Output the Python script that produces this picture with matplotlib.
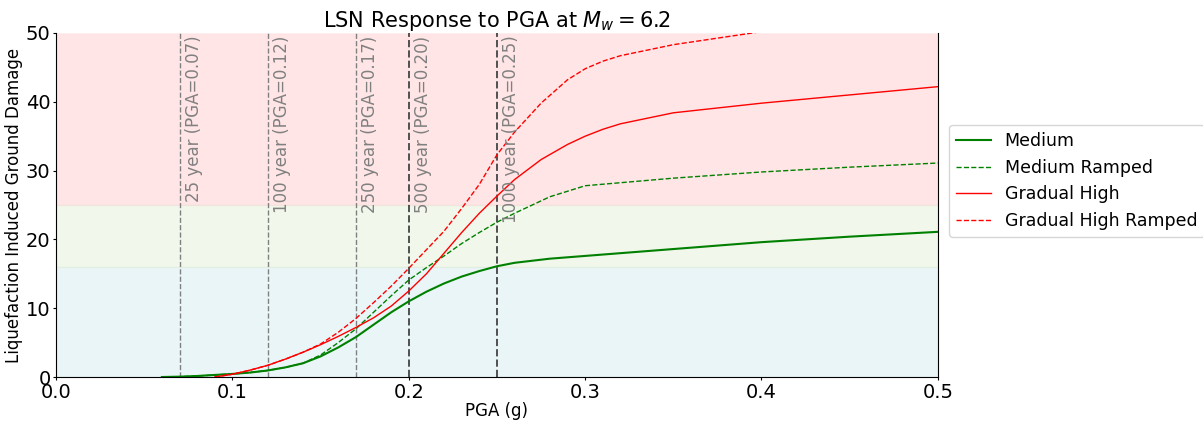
import matplotlib
matplotlib.use("Agg")
import numpy as np
import matplotlib.pyplot as plt

# ======= DATA ====================================
pga_green = [0.06, 0.07, 0.08, 0.09, 0.10, 0.11, 0.12, 0.13, 0.14, 0.15, 0.16, 0.17, 0.18,
             0.19, 0.20, 0.21, 0.22, 0.23, 0.24, 0.25, 0.26, 0.28, 0.30, 0.35, 0.40, 0.45, 0.50]
medium = [0.0, 0.05, 0.15, 0.3, 0.45, 0.65, 0.95, 1.4, 2.0, 3.0, 4.3, 5.8, 7.6,
          9.4, 11.0, 12.4, 13.6, 14.6, 15.4, 16.1, 16.6, 17.2, 17.6, 18.6, 19.6, 20.4, 21.1]
medium_ramped = [0.0, 0.05, 0.15, 0.3, 0.45, 0.65, 0.95, 1.4, 2.0, 3.2, 5.0, 7.0, 9.4,
                 11.8, 14.1, 15.9, 17.6, 19.4, 21.0, 22.5, 23.8, 26.2, 27.8, 28.9, 29.8, 30.5, 31.1]

pga_red = [0.09, 0.10, 0.11, 0.12, 0.13, 0.14, 0.15, 0.16, 0.17, 0.18, 0.19, 0.20, 0.21,
           0.22, 0.23, 0.24, 0.25, 0.26, 0.275, 0.29, 0.30, 0.31, 0.32, 0.35, 0.40, 0.45, 0.50]
gradual_high = [0.0, 0.4, 1.0, 1.7, 2.6, 3.6, 4.7, 5.9, 7.2, 8.6, 10.3, 12.5, 15.0,
                18.0, 21.0, 23.8, 26.3, 28.7, 31.6, 33.8, 35.0, 36.0, 36.8, 38.4, 39.8, 41.0, 42.2]
gradual_high_ramped = [0.0, 0.4, 1.0, 1.7, 2.6, 3.6, 4.8, 6.5, 8.5, 10.8, 13.2, 15.8, 18.5,
                       21.2, 24.5, 28.0, 32.3, 35.6, 39.8, 43.2, 44.8, 45.9, 46.7, 48.3, 50.2, 51.6, 53.0]

return_periods = ["25", "100", "250", "500", "1000"]
return_pga = [0.07, 0.12, 0.17, 0.20, 0.25]

# ======= PLOT ===========
fig = plt.figure(figsize=(12.03, 4.23), dpi=100)
ax = fig.add_axes([0.0466, 0.1087, 0.733, 0.8133])

ax.axhspan(0, 16, facecolor='lightblue', alpha=0.25, edgecolor='#cfe3d6', lw=1)
ax.axhspan(16, 25, facecolor='#d5e6c0', alpha=0.3, edgecolor='#dde8d5', lw=1)
ax.axhspan(25, 50, facecolor='red', alpha=0.1, edgecolor='#f6d0d0', lw=1)

for i, (yr, p) in enumerate(zip(return_periods, return_pga)):
    col = 'grey' if i < 3 else '#505050'
    lw = 1.0 if i < 3 else 1.4
    ax.axvline(p, color=col, linestyle='--', linewidth=lw)
    ax.text(p + 0.003, 49.6, f"{yr} year (PGA={p:.2f})", rotation=90, color='grey',
            fontsize=12, ha='left', va='top')

ax.plot(pga_green, medium, color='green', linestyle='-', linewidth=1.5, label='Medium')
ax.plot(pga_green, medium_ramped, color='green', linestyle='--', linewidth=1.0, label='Medium Ramped')
ax.plot(pga_red, gradual_high, color='red', linestyle='-', linewidth=1.0, label='Gradual High')
ax.plot(pga_red, gradual_high_ramped, color='red', linestyle='--', linewidth=1.0,
        label='Gradual High Ramped')

ax.set_xlim(0, 0.5)
ax.set_ylim(0, 50)
ax.spines['top'].set_visible(False)
ax.tick_params(labelsize=14, length=2, pad=2)
ax.set_xlabel('PGA (g)', fontsize=12, labelpad=0)
ax.set_ylabel('Liquefaction Induced Ground Damage', fontsize=12, labelpad=2)
ax.set_title('LSN Response to PGA at $M_w = 6.2$', fontsize=15, pad=3)
ax.legend(loc='center left', bbox_to_anchor=(1.003, 0.57), fontsize=12.5)

plt.savefig("out.png", dpi=100)
